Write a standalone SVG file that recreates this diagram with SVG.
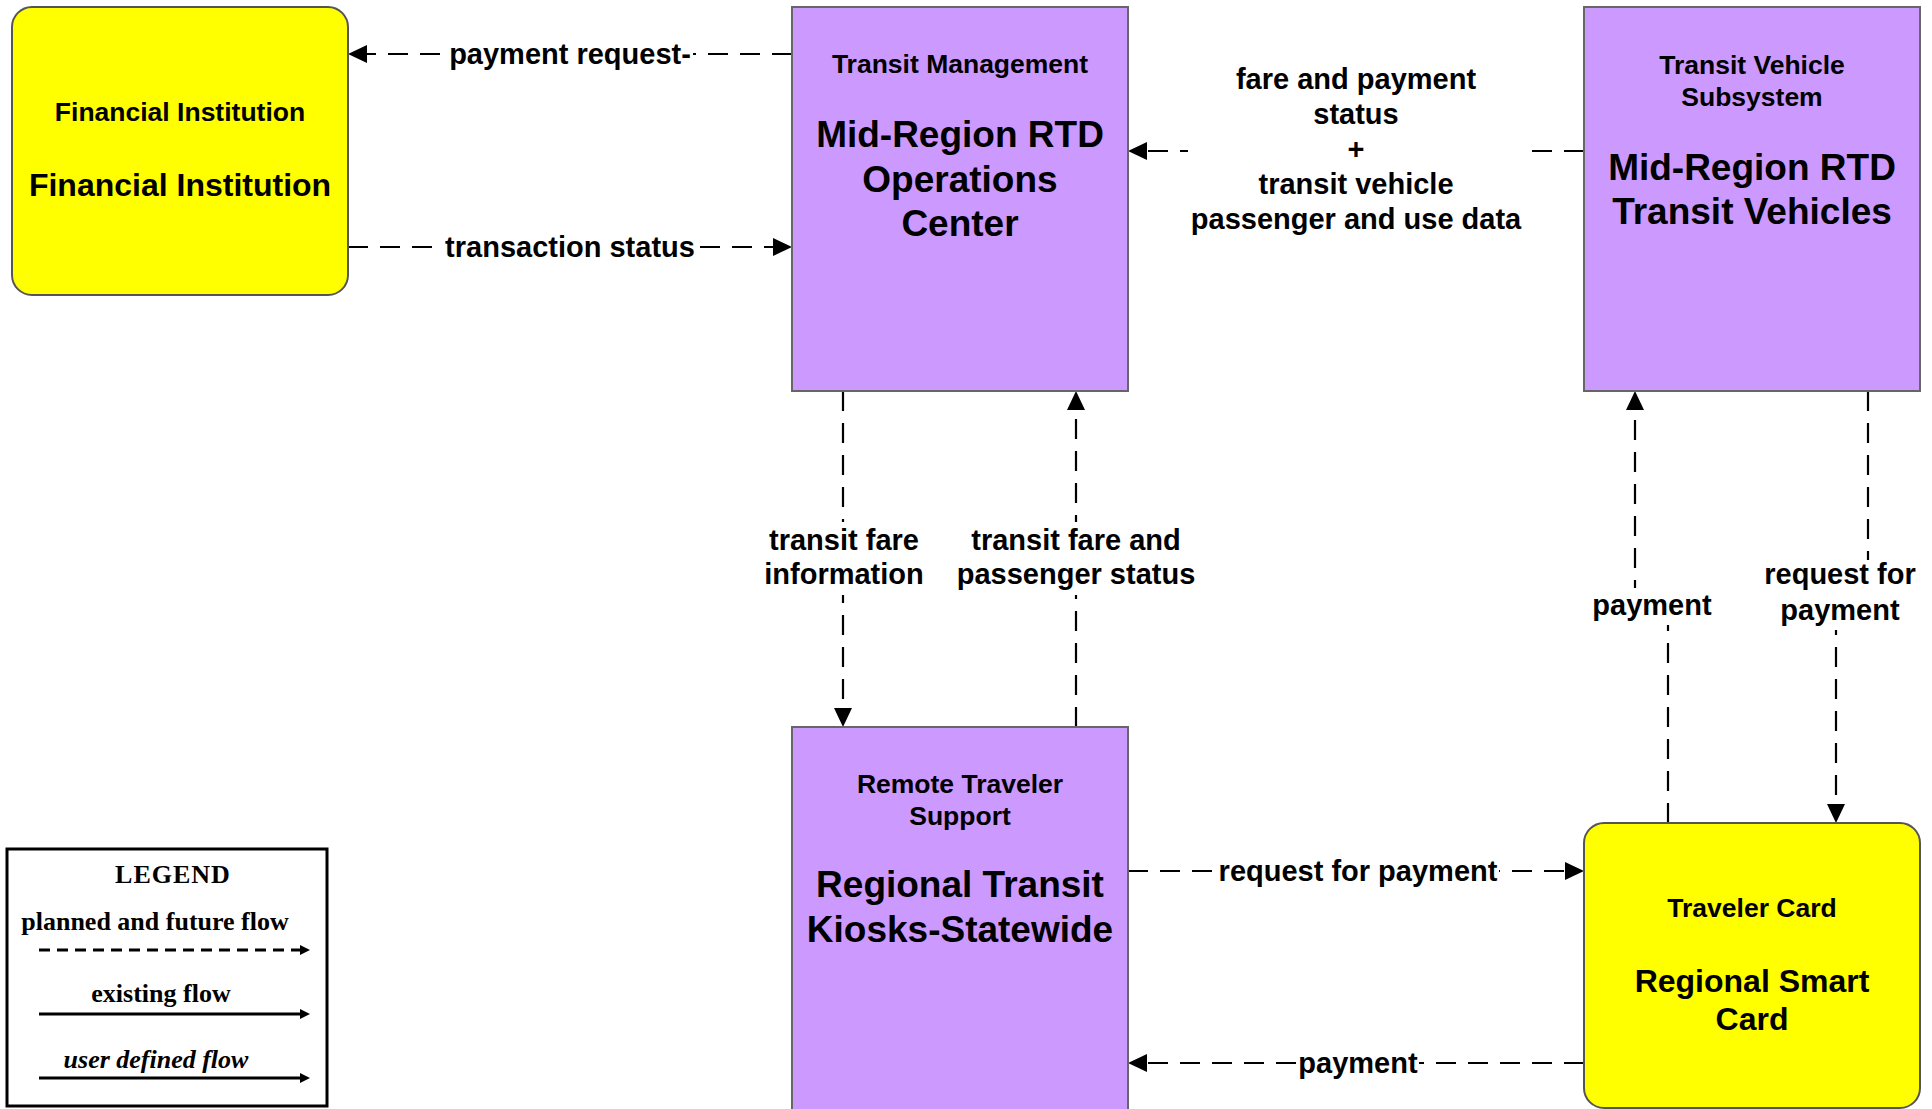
<svg xmlns="http://www.w3.org/2000/svg" width="1932" height="1109" viewBox="0 0 1932 1109">
<style>
text{font-family:"Liberation Sans",Arial,sans-serif;font-weight:bold;fill:#000;text-anchor:middle}
.t{font-size:26.5px}
.big{font-size:37px}
.mid{font-size:32px}
.lbl{font-size:29px}
.purple{fill:#CC99FF;stroke:#666;stroke-width:2}
.yellow{fill:#FFFF00;stroke:#555;stroke-width:2}
.flow{fill:none;stroke:#000;stroke-width:2.2;stroke-dasharray:20 12}
.bg{fill:#fff}
.leg{font-family:"Liberation Serif","Times New Roman",serif;font-size:26px}
</style>
<defs>
<marker id="ah" viewBox="0 0 19 18" refX="0" refY="9" markerWidth="19" markerHeight="18" markerUnits="userSpaceOnUse" orient="auto">
<path d="M0,0 L19,9 L0,18 z" fill="#000"/>
</marker>
<marker id="ahs" viewBox="0 0 10 10" refX="0" refY="5" markerWidth="10" markerHeight="10" markerUnits="userSpaceOnUse" orient="auto">
<path d="M0,0 L10,5 L0,10 z" fill="#000"/>
</marker>
</defs>
<rect width="1932" height="1109" fill="#fff"/>

<g id="connectors">
<!-- payment request -->
<path class="flow" d="M792,54 H367" marker-end="url(#ah)"/>
<rect class="bg" x="447" y="36" width="246" height="36"/>
<text class="lbl" x="570" y="64">payment request-</text>
<!-- transaction status -->
<path class="flow" d="M348,247 H773" marker-end="url(#ah)"/>
<rect class="bg" x="444" y="229" width="252" height="36"/>
<text class="lbl" x="570" y="257">transaction status</text>
<!-- fare and payment status + transit vehicle passenger and use data -->
<path class="flow" d="M1584,151 H1147" marker-end="url(#ah)"/>
<rect class="bg" x="1188" y="60" width="344" height="182"/>
<text class="lbl" x="1356" y="89">fare and payment</text>
<text class="lbl" x="1356" y="124">status</text>
<text class="lbl" x="1356" y="159">+</text>
<text class="lbl" x="1356" y="194">transit vehicle</text>
<text class="lbl" x="1356" y="229">passenger and use data</text>
<!-- transit fare information -->
<path class="flow" d="M843,391 V708" marker-end="url(#ah)"/>
<rect class="bg" x="763" y="522" width="162" height="73"/>
<text class="lbl" x="844" y="550">transit fare</text>
<text class="lbl" x="844" y="584">information</text>
<!-- transit fare and passenger status -->
<path class="flow" d="M1076,727 V410" marker-end="url(#ah)"/>
<rect class="bg" x="955" y="522" width="242" height="73"/>
<text class="lbl" x="1076" y="550">transit fare and</text>
<text class="lbl" x="1076" y="584">passenger status</text>
<!-- payment (card to vehicle) -->
<path class="flow" d="M1668,823 V606 H1635 V410" marker-end="url(#ah)"/>
<rect class="bg" x="1590" y="588" width="124" height="37"/>
<text class="lbl" x="1652" y="615">payment</text>
<!-- request for payment (vehicle to card) -->
<path class="flow" d="M1868,391 V595 H1836 V804" marker-end="url(#ah)"/>
<rect class="bg" x="1762" y="560" width="156" height="70"/>
<text class="lbl" x="1840" y="584">request for</text>
<text class="lbl" x="1840" y="620">payment</text>
<!-- request for payment (kiosk to card) -->
<path class="flow" d="M1128,871 H1565" marker-end="url(#ah)"/>
<rect class="bg" x="1218" y="853" width="281" height="36"/>
<text class="lbl" x="1358" y="881">request for payment</text>
<!-- payment (card to kiosk) -->
<path class="flow" d="M1584,1063 H1147" marker-end="url(#ah)"/>
<rect class="bg" x="1298" y="1045" width="121" height="36"/>
<text class="lbl" x="1358" y="1073">payment</text>
</g>

<g id="financial-institution">
<rect class="yellow" x="12" y="7" width="336" height="288" rx="20" ry="20"/>
<text class="t" x="180" y="121">Financial Institution</text>
<text class="mid" x="180" y="196">Financial Institution</text>
</g>

<g id="transit-management">
<rect class="purple" x="792" y="7" width="336" height="384"/>
<text class="t" x="960" y="73">Transit Management</text>
<text class="big" x="960" y="147">Mid-Region RTD</text>
<text class="big" x="960" y="192">Operations</text>
<text class="big" x="960" y="236">Center</text>
</g>

<g id="transit-vehicle">
<rect class="purple" x="1584" y="7" width="336" height="384"/>
<text class="t" x="1752" y="74">Transit Vehicle</text>
<text class="t" x="1752" y="106">Subsystem</text>
<text class="big" x="1752" y="180">Mid-Region RTD</text>
<text class="big" x="1752" y="224">Transit Vehicles</text>
</g>

<g id="remote-traveler-support">
<rect class="purple" x="792" y="727" width="336" height="400"/>
<text class="t" x="960" y="793">Remote Traveler</text>
<text class="t" x="960" y="825">Support</text>
<text class="big" x="960" y="897">Regional Transit</text>
<text class="big" x="960" y="942">Kiosks-Statewide</text>
</g>

<g id="traveler-card">
<rect class="yellow" x="1584" y="823" width="336" height="285" rx="20" ry="20"/>
<text class="t" x="1752" y="917">Traveler Card</text>
<text class="mid" x="1752" y="992">Regional Smart</text>
<text class="mid" x="1752" y="1030">Card</text>
</g>

<g id="legend">
<rect x="7" y="849" width="320" height="257" fill="#fff" stroke="#000" stroke-width="3"/>
<text class="leg" x="173" y="883" letter-spacing="1">LEGEND</text>
<text class="leg" x="155" y="930">planned and future flow</text>
<line x1="39" y1="950" x2="300" y2="950" stroke="#000" stroke-width="3" stroke-dasharray="11 7" marker-end="url(#ahs)"/>
<text class="leg" x="161" y="1002">existing flow</text>
<line x1="39" y1="1014" x2="300" y2="1014" stroke="#000" stroke-width="3" marker-end="url(#ahs)"/>
<text class="leg" x="156" y="1068" font-style="italic">user defined flow</text>
<line x1="39" y1="1078" x2="300" y2="1078" stroke="#000" stroke-width="3" marker-end="url(#ahs)"/>
</g>
</svg>
